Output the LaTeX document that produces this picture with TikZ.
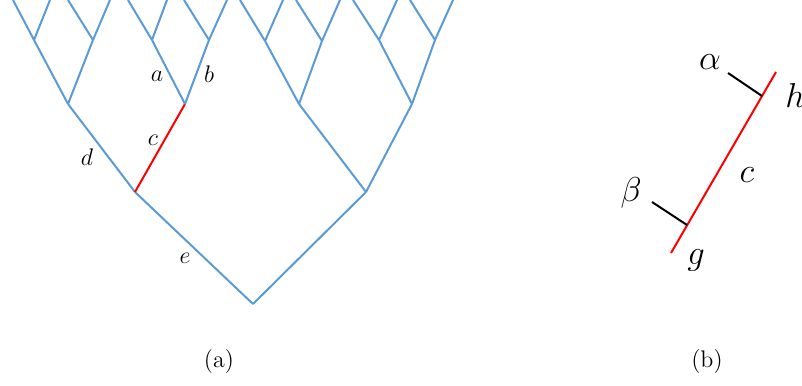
\documentclass[tikz,border=0pt]{standalone}
\usepackage{xcolor}
\usepackage{amsmath}
\usepackage{amssymb}
\usepackage{tikz}
\usetikzlibrary{positioning, calc}
\definecolor{arbre}{RGB}{91,155,213}

\begin{document}
\begin{tikzpicture}[x=0.5pt, y=-0.5pt, branche/.style={draw=arbre, line width=1pt}, rouge/.style={draw=red, line width=1pt}, trait/.style={draw=black, line width=1pt}, lab/.style={inner sep=0pt, font=\large}, grand/.style={inner sep=0pt, font=\LARGE}]
    \useasboundingbox (0,0) rectangle (802,385);
    \clip (0,0) rectangle (802,385);

    % Noeuds de l'arbre (a)
    \coordinate (R) at (253,304);
    \coordinate (G) at (135,192);
    \coordinate (D) at (366,192);
    \coordinate (GG) at (68,104);
    \coordinate (GD) at (185,104);
    \coordinate (DG) at (299,104);
    \coordinate (DD) at (412,104);
    \coordinate (GGG) at (34,40);
    \coordinate (GGD) at (93,40);
    \coordinate (GDG) at (152,40);
    \coordinate (GDD) at (209,40);
    \coordinate (DGG) at (265,41);
    \coordinate (DGD) at (322,41);
    \coordinate (DDG) at (379,40);
    \coordinate (DDD) at (435,40);

    % Feuilles (coupees en haut)
    \coordinate (f1) at (13,0);
    \coordinate (f2) at (50,0);
    \coordinate (f3) at (68,0);
    \coordinate (f4) at (110,0);
    \coordinate (f5) at (128,0);
    \coordinate (f6) at (167,0);
    \coordinate (f7) at (184,0);
    \coordinate (f8) at (227,0);
    \coordinate (f9) at (240,0);
    \coordinate (f10) at (283,0);
    \coordinate (f11) at (296,0);
    \coordinate (f12) at (340,0);
    \coordinate (f13) at (353,0);
    \coordinate (f14) at (397,0);
    \coordinate (f15) at (410,0);
    \coordinate (f16) at (453,0);

    % Branches
    \draw[branche] (R) -- (G);
    \draw[branche] (R) -- (D);
    \draw[branche] (G) -- (GG);
    \draw[rouge] (G) -- (GD);
    \draw[branche] (D) -- (DG);
    \draw[branche] (D) -- (DD);
    \draw[branche] (GG) -- (GGG);
    \draw[branche] (GG) -- (GGD);
    \draw[branche] (GD) -- (GDG);
    \draw[branche] (GD) -- (GDD);
    \draw[branche] (DG) -- (DGG);
    \draw[branche] (DG) -- (DGD);
    \draw[branche] (DD) -- (DDG);
    \draw[branche] (DD) -- (DDD);
    \draw[branche] (GGG) -- (f1);
    \draw[branche] (GGG) -- (f2);
    \draw[branche] (GGD) -- (f3);
    \draw[branche] (GGD) -- (f4);
    \draw[branche] (GDG) -- (f5);
    \draw[branche] (GDG) -- (f6);
    \draw[branche] (GDD) -- (f7);
    \draw[branche] (GDD) -- (f8);
    \draw[branche] (DGG) -- (f9);
    \draw[branche] (DGG) -- (f10);
    \draw[branche] (DGD) -- (f11);
    \draw[branche] (DGD) -- (f12);
    \draw[branche] (DDG) -- (f13);
    \draw[branche] (DDG) -- (f14);
    \draw[branche] (DDD) -- (f15);
    \draw[branche] (DDD) -- (f16);

    % Etiquettes des branches
    \node[lab] (a) at (157,76) {$a$};
    \node[lab] (b) at (209,74) {$b$};
    \node[lab] (c) at (153,140) {$c$};
    \node[lab] (d) at (87,157) {$d$};
    \node[lab] (e) at (185,258) {$e$};

    % Branche c seule (b)
    \coordinate (bg) at (671,253);
    \coordinate (bh) at (776,72);
    \coordinate (ph) at (762,96);
    \coordinate (pg) at (687,225);
    \coordinate (th) at (728,73);
    \coordinate (tg) at (652,202);
    \draw[rouge] (bg) -- (bh);
    \draw[trait] (th) -- (ph);
    \draw[trait] (tg) -- (pg);
    \node[grand] (alpha) at (710,62) {$\alpha$};
    \node[grand] (h) at (795,95) {$h$};
    \node[grand] (cc) at (747,175) {$c$};
    \node[grand] (beta) at (631,193) {$\beta$};
    \node[grand] (g) at (696,260) {$g$};

    % Legendes
    \node[lab] (la) at (219,362) {(a)};
    \node[lab] (lb) at (707,362) {(b)};
\end{tikzpicture}
\end{document}
